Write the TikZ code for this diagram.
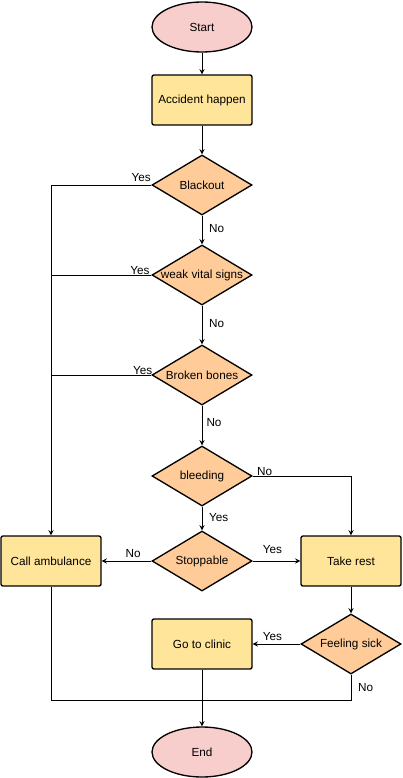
\documentclass[tikz,border=0pt]{standalone}
\usepackage{fontspec}
\setmainfont{Liberation Sans}
\usetikzlibrary{shapes}
\usetikzlibrary{arrows}
\definecolor{endpink}{HTML}{F8CECC}
\definecolor{stepyellow}{HTML}{FFE599}
\definecolor{askorange}{HTML}{FFCC99}
\begin{document}
\begin{tikzpicture}[x=0.75pt,y=-0.75pt,font=\fontsize{8.8pt}{10.5pt}\selectfont,
				terminal/.style={ellipse,draw,line width=1pt,fill=endpink,minimum width=75pt,minimum height=37.5pt,inner sep=0pt},
				process/.style={rectangle,rounded corners=1.5pt,draw,line width=1pt,fill=stepyellow,minimum width=75pt,minimum height=37.5pt,inner sep=0pt},
				decision/.style={diamond,draw,line width=1pt,fill=askorange,minimum width=75pt,minimum height=45pt,inner sep=0pt},
				link/.style={draw,line width=0.75pt},
				arr/.style={link,-stealth},
				tag/.style={inner sep=0pt}
				]
				\useasboundingbox (0,0) rectangle (403,778);
				\node[terminal](s) at (202,27){Start};
				\node[process](a) at (202,100){Accident happen};
				\node[decision,label=center:Blackout](b) at (202,185){};
				\node[decision,label=center:{weak vital signs}](w) at (202,275){};
				\node[decision,label=center:{Broken bones}](k) at (202,375){};
				\node[decision,label=center:bleeding](l) at (202,476){};
				\node[decision,label=center:Stoppable](p) at (202,561){};
				\node[process](c) at (51,561){Call ambulance};
				\node[process](r) at (351,561){Take rest};
				\node[decision,label=center:{Feeling sick}](f) at (351,644){};
				\node[process](g) at (202,644){Go to clinic};
				\node[terminal](e) at (202,752){End};
				\coordinate (m) at (202,700);
				% arrows down the middle
				\draw[arr] (s) -- (a);
				\draw[arr] (a) -- (b);
				\draw[arr] (b) -- node[tag,right,xshift=5pt,yshift=1pt]{No} (w);
				\draw[arr] (w) -- node[tag,right,xshift=5pt,yshift=1pt]{No} (k);
				\draw[arr] (k) -- node[tag,right,xshift=3pt,yshift=2pt]{No} (l);
				\draw[arr] (l) -- node[tag,right,xshift=5pt,yshift=1pt]{Yes} (p);
				\draw[arr] (g) -- (e);
				% yes branches to the left
				\draw[arr] (b.west) node[tag,above left,xshift=-0pt,yshift=2pt]{Yes} -| (c.north);
				\draw[link] (w.west) node[tag,above left,xshift=-1pt,yshift=0pt]{Yes} -- (w.west -| c.north);
				\draw[link] (k.west) node[tag,above left,xshift=1pt,yshift=0pt]{Yes} -- (k.west -| c.north);
				\draw[arr] (p) -- node[tag,above,xshift=5pt,yshift=2pt]{No} (c);
				\draw[arr] (p) -- node[tag,above,xshift=-3pt,yshift=5pt]{Yes} (r);
				\draw[arr] (l.east) node[tag,above right,xshift=3pt,yshift=0pt]{No} -| (r.north);
				\draw[arr] (r) -- (f);
				\draw[arr] (f) -- node[tag,above,xshift=-3pt,yshift=2pt]{Yes} (g);
				\draw[link] (f.south) node[tag,below right,xshift=5pt,yshift=-6pt]{No} |- (m);
				\draw[link] (c.south) |- (m);
\end{tikzpicture}
\end{document}
